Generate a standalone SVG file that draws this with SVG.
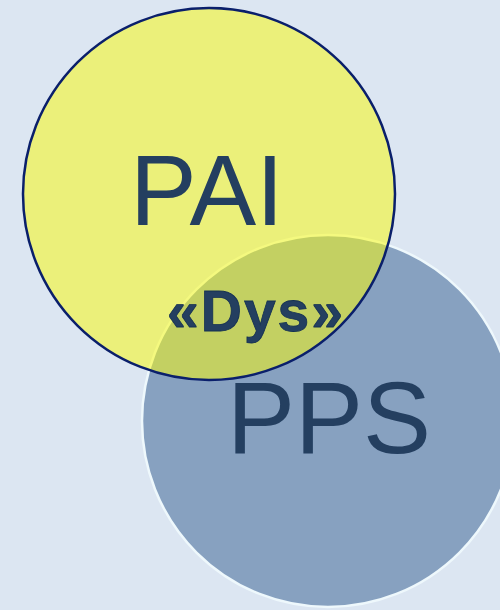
<svg xmlns="http://www.w3.org/2000/svg" width="500" height="610" viewBox="0 0 500 610">
<style>
.lbl{font-family:"Liberation Sans",Arial,sans-serif;fill:#243f60;text-anchor:middle}
</style>
<rect width="500" height="610" fill="#dce6f2"/>
<g id="pps">
<circle cx="328" cy="421" r="186" fill="#87a1c0" stroke="#eef8fc" stroke-width="2.5"/>
<text class="lbl" x="329" y="453" font-size="102">PPS</text>
</g>
<g id="pai">
<circle cx="209" cy="194" r="186" fill="#faf910" fill-opacity="0.53" stroke="#0a1f6b" stroke-width="2.5"/>
<text class="lbl" x="207" y="225" font-size="100">PAI</text>
</g>
<g id="dys">
<text class="lbl" x="256" y="331" font-size="57" font-weight="bold" letter-spacing="2" fill="#25476f" stroke="#132f52" stroke-width="0.8">«Dys»</text>
</g>
<g id="connectors"/>
</svg>
